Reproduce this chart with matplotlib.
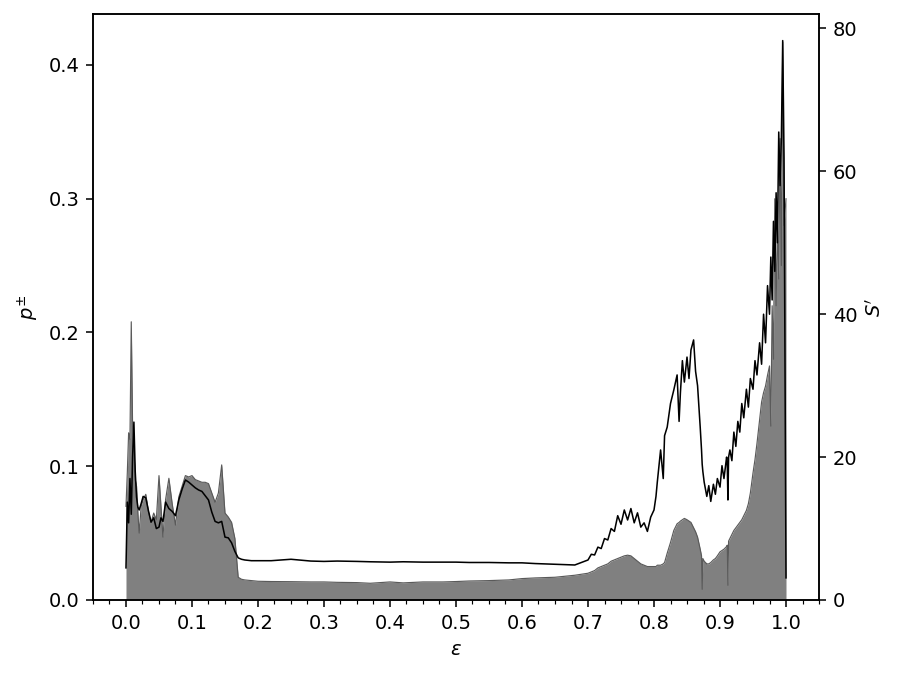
import numpy as np
import matplotlib
matplotlib.use('Agg')
import matplotlib.pyplot as plt
from matplotlib.ticker import MultipleLocator

# epsilon grid
eps = [
    0.000, 0.002, 0.004, 0.006, 0.008, 0.010, 0.012, 0.014, 0.016, 0.018,
    0.020, 0.023, 0.026, 0.030, 0.034, 0.038, 0.042, 0.046, 0.050, 0.053,
    0.056, 0.060, 0.065, 0.070, 0.075, 0.080, 0.085, 0.090, 0.095, 0.100,
    0.105, 0.110, 0.115, 0.120, 0.125, 0.130, 0.135, 0.140, 0.145, 0.150,
    0.155, 0.160, 0.165, 0.170, 0.175, 0.180, 0.190, 0.200, 0.220, 0.250,
    0.280, 0.300, 0.320, 0.350, 0.370, 0.400, 0.420, 0.450, 0.480, 0.500,
    0.520, 0.550, 0.580, 0.600, 0.620, 0.650, 0.680,
    0.700, 0.705, 0.710, 0.715, 0.720, 0.725, 0.730, 0.735, 0.740, 0.745,
    0.750, 0.755, 0.760, 0.765, 0.770, 0.775, 0.780, 0.785, 0.790, 0.795,
    0.800, 0.803, 0.805, 0.810, 0.814, 0.816, 0.820, 0.825, 0.830, 0.835,
    0.838, 0.840, 0.843, 0.846, 0.850, 0.853, 0.856, 0.860, 0.863, 0.866,
    0.870, 0.872, 0.873, 0.874, 0.876, 0.880, 0.883, 0.886, 0.890, 0.893,
    0.896, 0.900, 0.903, 0.906, 0.910, 0.911, 0.912, 0.913, 0.915, 0.918,
    0.921, 0.924, 0.927, 0.930, 0.933, 0.936, 0.940, 0.943, 0.946, 0.950,
    0.953, 0.956, 0.960, 0.963, 0.966, 0.969, 0.972, 0.975, 0.977, 0.979,
    0.981, 0.983, 0.985, 0.987, 0.989, 0.991, 0.993, 0.995, 0.997, 1.000,
]

# p^{\pm} (grey filled area, left axis)
p_pm = [
    0.070, 0.095, 0.125, 0.120, 0.208, 0.130, 0.115, 0.090, 0.085, 0.065,
    0.050, 0.070, 0.075, 0.079, 0.066, 0.058, 0.065, 0.060, 0.093, 0.070,
    0.047, 0.075, 0.091, 0.072, 0.056, 0.077, 0.085, 0.093, 0.092, 0.093,
    0.090, 0.089, 0.088, 0.088, 0.087, 0.080, 0.073, 0.080, 0.101, 0.065,
    0.062, 0.058, 0.046, 0.017, 0.0155, 0.015, 0.0145, 0.014, 0.0138, 0.0137,
    0.0135, 0.0135, 0.0132, 0.0130, 0.0125, 0.0135, 0.0128, 0.0135, 0.0135, 0.0138,
    0.0142, 0.0145, 0.0150, 0.0160, 0.0165, 0.0170, 0.0185,
    0.020, 0.021, 0.022, 0.024, 0.025, 0.026, 0.027, 0.029, 0.030, 0.031,
    0.032, 0.033, 0.0335, 0.033, 0.031, 0.029, 0.027, 0.026, 0.025, 0.025,
    0.025, 0.025, 0.026, 0.026, 0.027, 0.028, 0.035, 0.043, 0.052, 0.057,
    0.058, 0.059, 0.060, 0.061, 0.060, 0.059, 0.058, 0.054, 0.051, 0.047,
    0.038, 0.033, 0.008, 0.031, 0.029, 0.027, 0.027, 0.028, 0.030, 0.031,
    0.033, 0.036, 0.037, 0.038, 0.040, 0.041, 0.011, 0.044, 0.046, 0.049,
    0.052, 0.054, 0.056, 0.058, 0.060, 0.063, 0.067, 0.072, 0.080, 0.095,
    0.105, 0.117, 0.135, 0.148, 0.155, 0.160, 0.168, 0.175, 0.130, 0.220,
    0.180, 0.300, 0.220, 0.280, 0.240, 0.345, 0.250, 0.417, 0.280, 0.300,
]

# S' (black line, right axis)
s_prime = [
    4.5, 13.7, 10.8, 17.0, 12.0, 20.0, 24.9, 18.0, 14.4, 13.0,
    12.6, 13.5, 14.5, 14.3, 12.5, 10.9, 11.5, 10.0, 10.2, 11.5,
    11.0, 13.7, 12.8, 12.4, 11.8, 14.0, 15.5, 16.8, 16.5, 16.1,
    15.7, 15.4, 15.2, 14.6, 14.0, 12.3, 11.0, 10.8, 11.0, 8.8,
    8.7, 8.0, 6.8, 5.9, 5.7, 5.6, 5.5, 5.5, 5.5, 5.7,
    5.45, 5.4, 5.45, 5.4, 5.35, 5.3, 5.35, 5.3, 5.3, 5.3,
    5.25, 5.25, 5.2, 5.2, 5.1, 5.0, 4.9,
    5.6, 6.4, 6.3, 7.4, 7.2, 8.6, 8.4, 10.0, 9.6, 11.8,
    10.6, 12.6, 11.2, 12.8, 10.8, 12.2, 10.2, 10.8, 9.6, 11.6,
    12.6, 14.5, 16.5, 21.0, 17.0, 23.0, 24.2, 27.5, 29.4, 31.5,
    25.0, 29.0, 33.5, 30.5, 34.0, 31.0, 35.0, 36.4, 32.0, 30.0,
    24.2, 21.0, 19.0, 18.0, 16.5, 14.5, 16.0, 13.8, 16.2, 14.8,
    17.0, 15.8, 18.8, 17.0, 20.0, 19.0, 14.0, 20.0, 21.0, 19.5,
    23.5, 21.5, 25.0, 23.5, 27.5, 25.5, 29.5, 27.0, 31.0, 29.5,
    33.5, 31.5, 36.0, 33.0, 40.0, 36.0, 44.0, 40.0, 48.0, 42.0,
    53.0, 46.0, 57.0, 50.0, 65.5, 58.0, 64.8, 78.3, 62.0, 3.1,
]


def main():
    fig, ax = plt.subplots(figsize=(901 / 140, 674 / 140), dpi=140)
    fig.subplots_adjust(left=0.1032, right=0.909, bottom=0.1098, top=0.979)

    # grey area for p^{\pm}
    ax.fill_between(eps, 0, p_pm, color='#808080', linewidth=0)
    ax.plot(eps, p_pm, color='#5a5a5a', linewidth=0.6)
    ax.set_xlim(-0.05, 1.05)
    ax.set_ylim(0, 0.438)
    ax.xaxis.set_major_locator(MultipleLocator(0.1))
    ax.xaxis.set_minor_locator(MultipleLocator(0.025))
    ax.yaxis.set_major_locator(MultipleLocator(0.1))
    ax.set_xlabel(r'$\epsilon$')
    ax.set_ylabel(r'$p^{\pm}$')

    # black line for S'
    ax2 = ax.twinx()
    ax2.plot(eps, s_prime, color='black', linewidth=0.8)
    ax2.set_ylim(0, 82)
    ax2.yaxis.set_major_locator(MultipleLocator(20))
    ax2.set_ylabel(r"$S^{\prime}$")

    plt.savefig('out.png', dpi=140)


if __name__ == '__main__':
    main()
